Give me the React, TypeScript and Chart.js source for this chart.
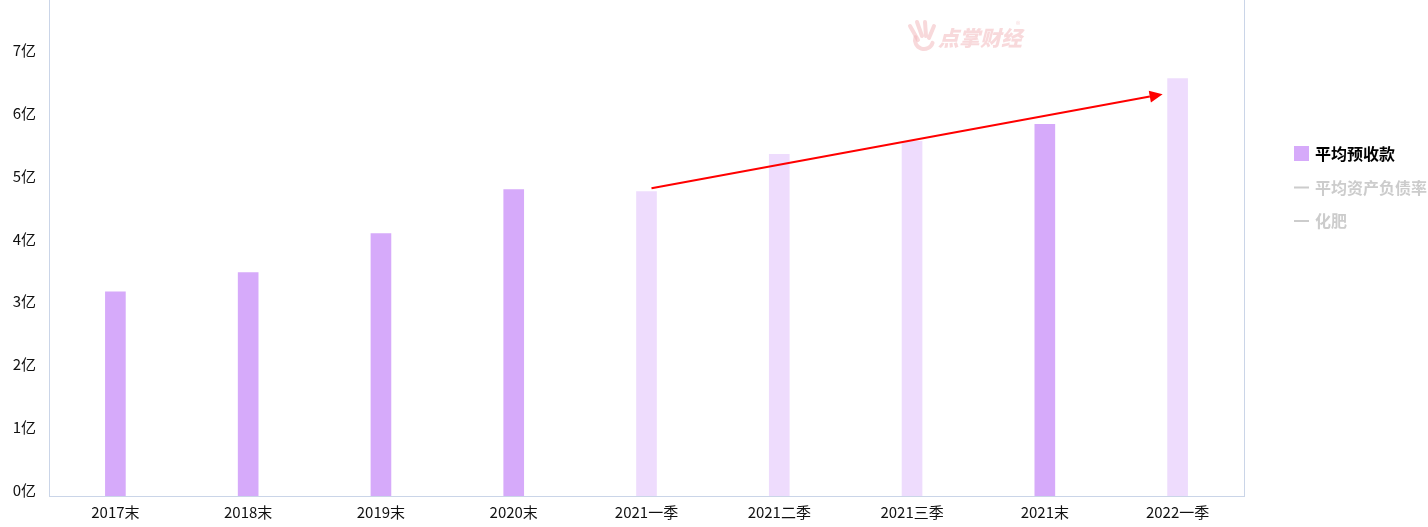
import React, { useEffect, useRef } from "react";
import { Chart, registerables } from "chart.js";

Chart.register(...registerables);

const categories = ["2017末", "2018末", "2019末", "2020末", "2021一季", "2021二季", "2021三季", "2021末", "2022一季"];
const avgAdvance = [3.25, 3.56, 4.18, 4.88, 4.85, 5.44, 5.65, 5.92, 6.65];
const isAnnual = [true, true, true, true, false, false, false, true, false];
const yTicks = [0, 1, 2, 3, 4, 5, 6, 7];
const legendItems = ["平均预收款", "平均资产负债率", "化肥"];
const arrowFrom = { index: 4, value: 4.9 };
const arrowTo = { index: 8, value: 6.4 };
const watermark = "点掌财经";

const DARK = "#d6aafa";
const LIGHT = "#eedcfd";
const AXIS = "#cad5e8";
const FONT = "'Noto Sans CJK SC', 'Noto Sans', sans-serif";
const SHIFT = 22;

const overlayPlugin = {
  id: "overlay",
  beforeDatasetsDraw(chart: any) {
    const ctx = chart.ctx;
    const a = chart.chartArea;
    ctx.save();
    // watermark
    ctx.fillStyle = "rgba(242,186,190,0.55)";
    ctx.strokeStyle = "rgba(242,186,190,0.55)";
    ctx.lineCap = "round";
    ctx.lineWidth = 4;
    const wx = 908, wy = a.top + 20;
    ctx.beginPath();
    ctx.moveTo(wx + 2, wy + 6); ctx.lineTo(wx + 10, wy + 20);
    ctx.moveTo(wx + 9, wy + 2); ctx.lineTo(wx + 14, wy + 16);
    ctx.moveTo(wx + 17, wy + 2); ctx.lineTo(wx + 18, wy + 16);
    ctx.moveTo(wx + 26, wy + 6); ctx.lineTo(wx + 21, wy + 18);
    ctx.stroke();
    ctx.beginPath();
    ctx.arc(wx + 16, wy + 20, 9, 0.1 * Math.PI, 1.1 * Math.PI);
    ctx.stroke();
    ctx.font = `italic 900 21px ${FONT}`;
    ctx.textBaseline = "middle";
    ctx.textAlign = "left";
    ctx.fillText(watermark, 938, a.top + 38);
    ctx.font = `9px ${FONT}`;
    ctx.fillText("®", 1016, a.top + 25);
    // right border
    ctx.strokeStyle = AXIS;
    ctx.lineWidth = 1;
    ctx.beginPath();
    ctx.moveTo(Math.round(a.right) + 0.5, a.top);
    ctx.lineTo(Math.round(a.right) + 0.5, a.bottom);
    ctx.stroke();
    ctx.restore();
  },
  afterDatasetsDraw(chart: any) {
    const ctx = chart.ctx;
    const xs = chart.scales.x;
    const ys = chart.scales.y;
    const meta = chart.getDatasetMeta(0);
    const b1 = meta.data[arrowTo.index];
    const x0 = xs.getPixelForValue(arrowFrom.index) + 5;
    const y0 = ys.getPixelForValue(arrowFrom.value);
    const x1 = b1.x - b1.width / 2 - 5;
    const y1 = ys.getPixelForValue(arrowTo.value);
    ctx.save();
    ctx.strokeStyle = "#f00";
    ctx.fillStyle = "#f00";
    ctx.lineWidth = 2;
    const ang = Math.atan2(y1 - y0, x1 - x0);
    const hl = 13, hw = 6;
    const bx = x1 - hl * Math.cos(ang), by = y1 - hl * Math.sin(ang);
    ctx.beginPath();
    ctx.moveTo(x0, y0);
    ctx.lineTo(bx, by);
    ctx.stroke();
    ctx.beginPath();
    ctx.moveTo(x1, y1);
    ctx.lineTo(bx + hw * Math.sin(ang), by - hw * Math.cos(ang));
    ctx.lineTo(bx - hw * Math.sin(ang), by + hw * Math.cos(ang));
    ctx.closePath();
    ctx.fill();
    ctx.restore();
  },
  afterDraw(chart: any) {
    const ctx = chart.ctx;
    const a = chart.chartArea;
    const lx = a.right + 50;
    ctx.save();
    ctx.textBaseline = "middle";
    ctx.textAlign = "left";
    ctx.font = `bold 16px ${FONT}`;
    legendItems.forEach((t, i) => {
      const y = a.top + 154 + i * 33.5;
      if (i === 0) {
        ctx.fillStyle = DARK;
        ctx.fillRect(lx, y - 8, 15, 15);
        ctx.fillStyle = "#000";
      } else {
        ctx.fillStyle = "#cccccc";
        ctx.fillRect(lx, y - 1, 15, 2);
        ctx.fillStyle = "#cccccc";
      }
      ctx.fillText(t, lx + 21, y);
    });
    ctx.restore();
  },
};

export default function App() {
  const ref = useRef<HTMLCanvasElement>(null);
  useEffect(() => {
    document.body.style.margin = "0";
    const chart = new Chart(ref.current!, {
      type: "bar",
      data: {
        labels: categories,
        datasets: [
          {
            label: legendItems[0],
            data: avgAdvance,
            backgroundColor: isAnnual.map((v) => (v ? DARK : LIGHT)),
            barThickness: 20,
          },
        ],
      },
      options: {
        animation: false,
        responsive: false,
        layout: { padding: { left: 0, right: 184, top: 0, bottom: 0 } },
        plugins: { legend: { display: false }, tooltip: { enabled: false } },
        scales: {
          x: {
            grid: { display: false, drawTicks: false },
            border: { color: AXIS, width: 1 },
            ticks: { color: "#111", font: { size: 15, family: FONT }, padding: 7, maxRotation: 0, autoSkip: false },
            afterFit: (s: any) => { s.height = 31; },
          },
          y: {
            min: 0,
            max: 7.9,
            grid: { display: false, drawTicks: false },
            border: { color: AXIS, width: 1 },
            ticks: {
              stepSize: 1,
              color: "#111",
              font: { size: 15, family: FONT },
              padding: 13,
              labelOffset: -6,
              callback: (v: any) => `${v}亿`,
            },
            afterBuildTicks: (s: any) => {
              s.ticks = yTicks.map((v) => ({ value: v }));
            },
            afterFit: (s: any) => { s.width = 49; },
          },
        },
      },
      plugins: [overlayPlugin],
    });
    return () => chart.destroy();
  }, []);
  return (
    <div style={{ width: 1428, height: 527, overflow: "hidden" }}>
      <canvas ref={ref} width={1428} height={527 + SHIFT} style={{ display: "block", marginTop: -SHIFT }} />
    </div>
  );
}
